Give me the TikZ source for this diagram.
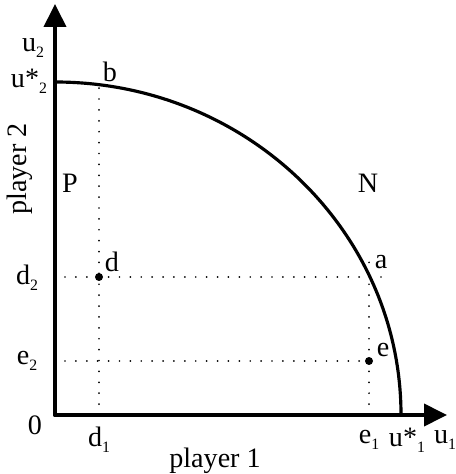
\documentclass[tikz,border=0pt]{standalone}
\usepackage{fontspec}
\setmainfont{Liberation Serif}
\usetikzlibrary{arrows.meta}

\newcommand{\lowsub}[1]{\raisebox{-0.45ex}{\fontsize{9}{10}\selectfont #1}}

\begin{document}
\begin{tikzpicture}[
  line cap=round,
  line join=round,
  >={Triangle[length=4.6mm,width=4.4mm]},
  font=\fontsize{16}{19}\selectfont,
  axis/.style={draw=black,line width=2.2pt,->},
  frontier/.style={draw=black,line width=1.8pt},
  guide/.style={
    draw=black,
    line width=1.1pt,
    dash pattern=on 0pt off 6.2pt
  },
  dot/.style={circle,fill=black,inner sep=0pt,minimum size=1.6mm},
  lbl/.style={inner sep=1pt,text=black}
]
\useasboundingbox (-1.10,-1.18) rectangle (8.00,8.30);

% Axes from the origin.
\coordinate (O)  at (0,0);
\coordinate (ytip) at (0,8.22);
\coordinate (xtip) at (7.84,0);
\draw[axis] (O) -- (ytip);
\draw[axis] (O) -- (xtip);

% Utility frontier: quarter ellipse from u*_2 down to u*_1.
\coordinate (us2) at (0,6.66);
\coordinate (us1) at (6.92,0);
\draw[frontier] (us2) arc[start angle=90,end angle=0,x radius=6.92,y radius=6.66];

% Points on and under the frontier.
\coordinate (b) at (0.88,6.606);
\coordinate (d1) at (0.88,0);
\coordinate (e1) at (6.28,0);
\coordinate (e1top) at (6.28,3.14);
\coordinate (d2) at (0.20,2.76);
\coordinate (d2end) at (6.52,2.76);
\coordinate (e2) at (0.20,1.08);
\coordinate (e2end) at (6.50,1.08);
\node[dot] (d) at (0.88,2.76) {};
\node[dot] (e) at (6.28,1.08) {};

% Dotted guides.
\draw[guide] (d1) -- (b);
\draw[guide] (d2) -- (d2end);
\draw[guide] (e1) -- (e1top);
\draw[guide] (e2) -- (e2end);

% Labels.
\node[lbl] (lu2)  at (-0.44,7.34) {u\lowsub{2}};
\node[lbl] (lus2) at (-0.52,6.68) {u*\lowsub{2}};
\node[lbl] (lb)   at (1.10,6.86) {b};
\node[lbl] (lP)   at (0.30,4.64) {P};
\node[lbl] (lN)   at (6.26,4.64) {N};
\node[lbl,rotate=90] (lp2) at (-0.70,4.92) {player 2};
\node[lbl] (ld)   at (1.14,3.06) {d};
\node[lbl] (la)   at (6.52,3.06) {a};
\node[lbl] (ld2)  at (-0.56,2.74) {d\lowsub{2}};
\node[lbl] (le2)  at (-0.56,1.08) {e\lowsub{2}};
\node[lbl] (le)   at (6.56,1.30) {e};
\node[lbl] (l0)   at (-0.40,-0.20) {0};
\node[lbl] (ld1)  at (0.88,-0.50) {d\lowsub{1}};
\node[lbl] (le1)  at (6.28,-0.50) {e\lowsub{1}};
\node[lbl] (lus1) at (7.04,-0.50) {u*\lowsub{1}};
\node[lbl] (lu1)  at (7.80,-0.50) {u\lowsub{1}};
\node[lbl] (lp1)  at (3.20,-0.92) {player 1};

\end{tikzpicture}
\end{document}
